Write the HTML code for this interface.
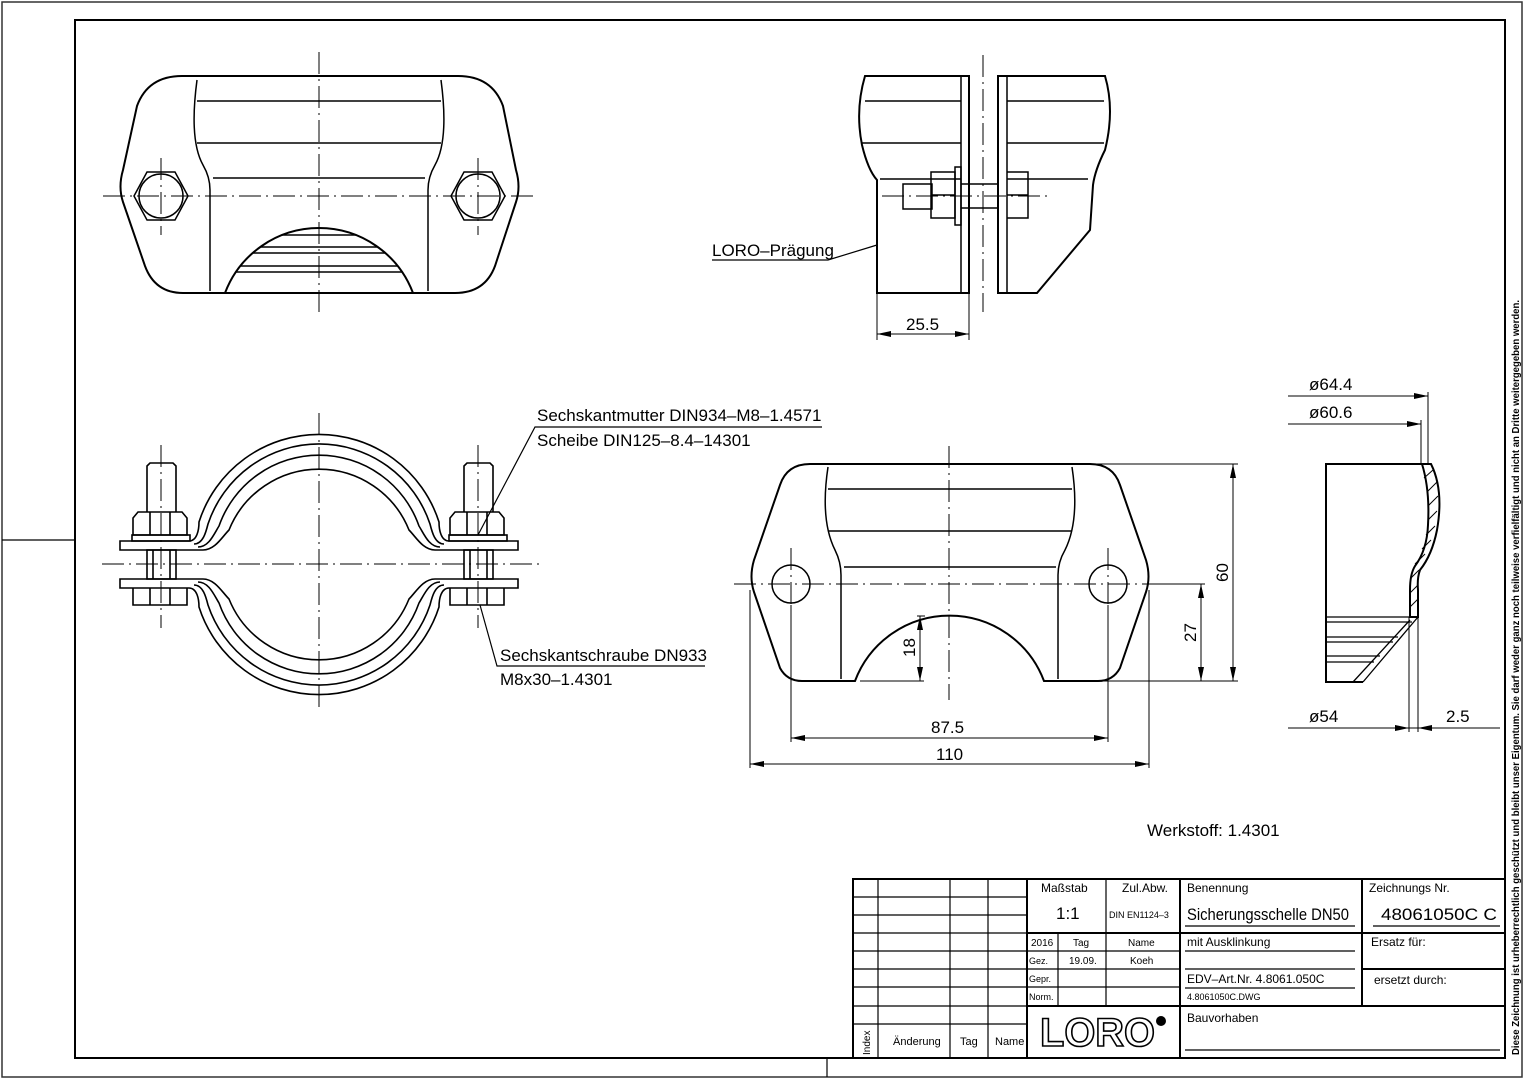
<!DOCTYPE html>
<html><head><meta charset="utf-8"><style>
html,body{margin:0;padding:0;background:#fff;}
svg{display:block;}
text{font-family:"Liberation Sans",sans-serif;fill:#000;}
</style></head><body>
<svg width="1525" height="1080" viewBox="0 0 1525 1080" xmlns="http://www.w3.org/2000/svg">
<g fill="none" stroke="#000">
<rect x="2" y="2" width="1520" height="1075" stroke-width="1.5" stroke="#333"/>
<rect x="75" y="20" width="1430" height="1038" stroke-width="2"/>
<line x1="2" y1="540" x2="75" y2="540" stroke-width="1.2"/>
<line x1="827" y1="1058" x2="827" y2="1077" stroke-width="1.2"/>

<!-- Top-left view -->
<g stroke-width="2">
<path d="M182,76 L458,76 Q492,76 503,106 L516,170 Q521,187 516,202 L495,266 Q485,293 455,293 L183,293 Q155,293 145,266 L123,202 Q118,187 123,170 L137,106 Q148,76 182,76 Z"/>
<path d="M197,80 Q189,140 203,165 Q210,177 210,190 L210,291" stroke-width="1.5"/>
<path d="M441,80 Q449,140 435,165 Q428,177 428,190 L428,291" stroke-width="1.5"/>
<path d="M225,293 A100.5,100.5 0 0 1 413,293"/>
</g>
<g stroke-width="1.5">
<line x1="197" y1="101" x2="441" y2="101"/><line x1="197" y1="143" x2="441" y2="143"/><line x1="213" y1="178" x2="425" y2="178"/>
<line x1="282" y1="235" x2="356" y2="235"/><line x1="260" y1="247" x2="378" y2="247"/><line x1="253" y1="253" x2="385" y2="253"/>
<line x1="240" y1="266" x2="398" y2="266"/><line x1="236" y1="272" x2="402" y2="272"/>
<polygon points="134,196 147,172 175,172 188,196 175,220 147,220"/>
<circle cx="161" cy="196" r="22"/>
<polygon points="451,196 464,172 492,172 505,196 492,220 464,220"/>
<circle cx="478" cy="196" r="22"/>
</g>
<g stroke-width="1" stroke-dasharray="22,5,2,5">
<line x1="103" y1="196" x2="537" y2="196"/>
<line x1="319" y1="52" x2="319" y2="315"/>
<line x1="161" y1="158" x2="161" y2="235"/><line x1="478" y1="158" x2="478" y2="235"/>
</g>

<!-- Top-right side view -->
<g stroke-width="2">
<path d="M969,76 L865,76 Q855,110 862,145 Q868,170 877,180 L877,293 L969,293 Z"/>
<line x1="961" y1="76" x2="961" y2="293" stroke-width="1.5"/>
<path d="M998,76 L1105,76 Q1115,110 1105,150 Q1095,170 1093,185 L1090,230 L1037,293 L998,293 Z"/>
<line x1="1007" y1="76" x2="1007" y2="293" stroke-width="1.5"/>
</g>
<g stroke-width="1.5">
<line x1="865" y1="101" x2="961" y2="101"/><line x1="862" y1="143" x2="961" y2="143"/><line x1="880" y1="179" x2="961" y2="179"/>
<line x1="1007" y1="101" x2="1104" y2="101"/><line x1="1007" y1="143" x2="1104" y2="143"/><line x1="1007" y1="179" x2="1088" y2="179"/>
<rect x="903" y="184" width="29" height="25"/>
<rect x="931" y="172" width="24" height="46"/><line x1="931" y1="195" x2="955" y2="195"/>
<rect x="955" y="167" width="6" height="58"/>
<line x1="961" y1="184" x2="998" y2="184"/><line x1="961" y1="208" x2="998" y2="208"/>
<path d="M1007,172 L1028,172 L1028,218 L1007,218 M1007,195 L1028,195"/>
<line x1="877" y1="293" x2="877" y2="340" stroke-width="1"/><line x1="969" y1="293" x2="969" y2="340" stroke-width="1"/>
<line x1="877" y1="334" x2="969" y2="334" stroke-width="1"/>
<polyline points="712,260 828,260 877,245" stroke-width="1.2"/>
</g>
<path d="M877,334 L891,331 L891,337 Z M969,334 L955,331 L955,337 Z" fill="#000" stroke="none"/>
<g stroke-width="1" stroke-dasharray="22,5,2,5">
<line x1="983" y1="55" x2="983" y2="312"/>
<line x1="882" y1="196" x2="1050" y2="196"/>
</g>

<!-- Clamp view -->
<g stroke-width="1.6">
<path d="M189,541 C197,541 199,530 199,522 A126,126 0 0 1 439,522 C439,530 441,541 449,541"/>
<path d="M194,544 C203,544 206,532 208,524 A117,117 0 0 1 430,524 C432,532 435,544 444,544"/>
<path d="M198,547 C209,547 214,534 219,526 A106,106 0 0 1 419,526 C424,534 429,547 440,547"/>
<path d="M203,550 C215,550 222,537 229,530 A97,97 0 0 1 409,530 C416,537 423,550 435,550"/>
<path d="M189,588 C197,588 199,599 199,607 A126,126 0 0 0 439,607 C439,599 441,588 449,588"/>
<path d="M194,585 C203,585 206,597 208,605 A117,117 0 0 0 430,605 C432,597 435,585 444,585"/>
<path d="M198,582 C209,582 214,595 219,603 A106,106 0 0 0 419,603 C424,595 429,582 440,582"/>
<path d="M203,579 C215,579 222,592 229,599 A97,97 0 0 0 409,599 C416,592 423,579 435,579"/>
<path d="M189,541 L120,541 L120,550 L203,550 M189,588 L120,588 L120,579 L203,579"/>
<path d="M449,541 L518,541 L518,550 L435,550 M449,588 L518,588 L518,579 L435,579"/>
<path d="M147,512 L147,466 L150,463 L173,463 L176,466 L176,512"/>
<path d="M133,535 L133,518 L138,512 L182,512 L187,518 L187,535 Z M150,512 L150,535 M170,512 L170,535"/>
<rect x="132" y="535" width="58" height="6"/>
<rect x="147" y="550" width="29" height="29"/><line x1="153" y1="550" x2="153" y2="579"/><line x1="170" y1="550" x2="170" y2="579"/>
<path d="M133,588 L133,605 L187,605 L187,588 M150,588 L150,605 M170,588 L170,605"/>
<path d="M464,512 L464,466 L467,463 L490,463 L493,466 L493,512"/>
<path d="M450,535 L450,518 L455,512 L499,512 L504,518 L504,535 Z M467,512 L467,535 M487,512 L487,535"/>
<rect x="449" y="535" width="58" height="6"/>
<rect x="464" y="550" width="29" height="29"/><line x1="470" y1="550" x2="470" y2="579"/><line x1="487" y1="550" x2="487" y2="579"/>
<path d="M450,588 L450,605 L504,605 L504,588 M467,588 L467,605 M487,588 L487,605"/>
</g>
<g stroke-width="1.2">
<polyline points="478,535 535,427 822,427"/>
<polyline points="480,605 497,666 705,666"/>
</g>
<g stroke-width="1" stroke-dasharray="22,5,2,5">
<line x1="102" y1="564" x2="540" y2="564"/>
<line x1="319" y1="413" x2="319" y2="712"/>
<line x1="161" y1="445" x2="161" y2="628"/><line x1="478" y1="445" x2="478" y2="628"/>
</g>

<!-- Middle-right view -->
<g stroke-width="2">
<path d="M810,464 L1090,464 Q1113,464 1120,485 L1146,560 Q1151,577 1146,592 L1120,668 Q1113,681 1098,681 L1044,681 A101,101 0 0 0 855,681 L802,681 Q787,681 780,668 L754,592 Q749,577 754,560 L780,485 Q787,464 810,464 Z"/>
</g>
<g stroke-width="1.5">
<path d="M828,467 Q820,520 835,550 Q841,562 841,575 L841,679"/>
<path d="M1072,467 Q1080,520 1065,550 Q1058,562 1058,575 L1058,679"/>
<line x1="828" y1="489" x2="1072" y2="489"/><line x1="828" y1="531" x2="1072" y2="531"/><line x1="844" y1="567" x2="1056" y2="567"/>
<circle cx="791" cy="584" r="19"/><circle cx="1108" cy="584" r="19"/>
</g>
<g stroke-width="1">
<line x1="791" y1="605" x2="791" y2="742"/><line x1="1108" y1="605" x2="1108" y2="742"/>
<line x1="791" y1="738" x2="1108" y2="738"/>
<line x1="750" y1="590" x2="750" y2="768"/><line x1="1149" y1="590" x2="1149" y2="768"/>
<line x1="750" y1="764" x2="1149" y2="764"/>
<line x1="1090" y1="464" x2="1238" y2="464"/><line x1="1098" y1="681" x2="1238" y2="681"/>
<line x1="1233" y1="464" x2="1233" y2="681"/>
<line x1="1150" y1="584" x2="1205" y2="584"/>
<line x1="1201" y1="584" x2="1201" y2="681"/>
<line x1="917" y1="616" x2="925" y2="616"/><line x1="860" y1="681" x2="924" y2="681"/>
<line x1="920" y1="616" x2="920" y2="681"/>
</g>
<g fill="#000" stroke="none">
<path d="M791,738 L805,735 L805,741 Z M1108,738 L1094,735 L1094,741 Z"/>
<path d="M750,764 L764,761 L764,767 Z M1149,764 L1135,761 L1135,767 Z"/>
<path d="M1233,464 L1230,478 L1236,478 Z M1233,681 L1230,667 L1236,667 Z"/>
<path d="M1201,584 L1198,598 L1204,598 Z M1201,681 L1198,667 L1204,667 Z"/>
<path d="M920,616 L917,630 L923,630 Z M920,681 L917,667 L923,667 Z"/>
</g>
<g stroke-width="1" stroke-dasharray="22,5,2,5">
<line x1="734" y1="584" x2="1168" y2="584"/>
<line x1="949" y1="446" x2="949" y2="700"/>
<line x1="791" y1="548" x2="791" y2="620"/><line x1="1108" y1="548" x2="1108" y2="620"/>
</g>

<!-- Section view -->
<g stroke-width="2">
<path d="M1431,464 L1326,464 L1326,682 L1363,682"/>
<path d="M1422,464 L1431,464 Q1444,490 1437,530 Q1432,555 1420,570 Q1417,578 1418,590 L1418,617 L1410,617 L1410,590 Q1410,574 1415,566 Q1427,550 1428,525 Q1430,490 1422,464 Z"/>
</g>
<g stroke-width="1.3">
<line x1="1326" y1="617" x2="1418" y2="617"/><line x1="1326" y1="622" x2="1412" y2="622"/>
<line x1="1326" y1="637" x2="1398" y2="637"/><line x1="1326" y1="642" x2="1393" y2="642"/>
<line x1="1326" y1="656" x2="1380" y2="656"/><line x1="1326" y1="662" x2="1374" y2="662"/>
<line x1="1418" y1="617" x2="1363" y2="682"/><line x1="1410" y1="620" x2="1353" y2="682"/>
<line x1="1424" y1="478" x2="1433" y2="470" stroke-width="1"/>
<line x1="1427" y1="492" x2="1437" y2="482" stroke-width="1"/>
<line x1="1428" y1="506" x2="1438" y2="496" stroke-width="1"/>
<line x1="1428" y1="520" x2="1437" y2="511" stroke-width="1"/>
<line x1="1426" y1="535" x2="1435" y2="526" stroke-width="1"/>
<line x1="1422" y1="549" x2="1431" y2="540" stroke-width="1"/>
<line x1="1415" y1="564" x2="1425" y2="554" stroke-width="1"/>
<line x1="1411" y1="578" x2="1419" y2="570" stroke-width="1"/>
<line x1="1410" y1="593" x2="1418" y2="585" stroke-width="1"/>
<line x1="1410" y1="607" x2="1418" y2="599" stroke-width="1"/>
</g>
<g stroke-width="1">
<line x1="1288" y1="396" x2="1428" y2="396"/><line x1="1428" y1="392" x2="1428" y2="464"/>
<line x1="1288" y1="424" x2="1421" y2="424"/><line x1="1421" y1="420" x2="1421" y2="464"/>
<line x1="1409" y1="617" x2="1409" y2="732"/><line x1="1418" y1="617" x2="1418" y2="732"/>
<line x1="1288" y1="728" x2="1500" y2="728"/>
</g>
<g fill="#000" stroke="none">
<path d="M1428,396 L1414,393 L1414,399 Z M1421,424 L1407,421 L1407,427 Z"/>
<path d="M1409,728 L1395,725 L1395,731 Z M1418,728 L1432,725 L1432,731 Z"/>
</g>

<!-- Title block -->
<g stroke-width="2">
<rect x="853" y="879" width="652" height="179"/>
<line x1="1027" y1="879" x2="1027" y2="1058"/>
<line x1="1180" y1="879" x2="1180" y2="1058"/>
<line x1="1362" y1="879" x2="1362" y2="1006"/>
<line x1="1027" y1="933" x2="1505" y2="933"/>
<line x1="1027" y1="1006" x2="1505" y2="1006"/>
<line x1="1362" y1="969" x2="1505" y2="969"/>
</g>
<g stroke-width="1.2">
<line x1="878" y1="879" x2="878" y2="1058"/><line x1="950" y1="879" x2="950" y2="1058"/><line x1="988" y1="879" x2="988" y2="1058"/>
<line x1="853" y1="897" x2="1027" y2="897"/><line x1="853" y1="915" x2="1027" y2="915"/><line x1="853" y1="933" x2="1027" y2="933"/>
<line x1="853" y1="951" x2="1027" y2="951"/><line x1="853" y1="969" x2="1027" y2="969"/><line x1="853" y1="987" x2="1027" y2="987"/>
<line x1="853" y1="1006" x2="1027" y2="1006"/><line x1="853" y1="1024" x2="1027" y2="1024"/>
<line x1="1106" y1="879" x2="1106" y2="1006"/><line x1="1058" y1="933" x2="1058" y2="1006"/>
<line x1="1027" y1="951" x2="1180" y2="951"/><line x1="1027" y1="969" x2="1180" y2="969"/><line x1="1027" y1="987" x2="1180" y2="987"/>
<line x1="1185" y1="926" x2="1355" y2="926"/><line x1="1185" y1="951" x2="1355" y2="951"/><line x1="1185" y1="969" x2="1355" y2="969"/>
<line x1="1185" y1="988" x2="1355" y2="988"/><line x1="1185" y1="1050" x2="1500" y2="1050"/>
<line x1="1373" y1="926" x2="1500" y2="926"/>
</g>
</g>

<g font-size="17">
<text x="712" y="256">LORO–Prägung</text>
<text x="906" y="330">25.5</text>
<text x="537" y="421">Sechskantmutter DIN934–M8–1.4571</text>
<text x="537" y="446">Scheibe DIN125–8.4–14301</text>
<text x="500" y="661">Sechskantschraube DN933</text>
<text x="500" y="685">M8x30–1.4301</text>
<text x="931" y="733">87.5</text>
<text x="936" y="760">110</text>
<text transform="translate(1228,582) rotate(-90)">60</text>
<text transform="translate(1196,642) rotate(-90)">27</text>
<text transform="translate(915,657) rotate(-90)">18</text>
<text x="1309" y="390">ø64.4</text>
<text x="1309" y="418">ø60.6</text>
<text x="1309" y="722">ø54</text>
<text x="1446" y="722">2.5</text>
<text x="1147" y="836">Werkstoff:  1.4301</text>
</g>
<g font-size="12">
<text x="1041" y="892">Maßstab</text>
<text x="1122" y="892">Zul.Abw.</text>
<text x="1187" y="892">Benennung</text>
<text x="1369" y="892">Zeichnungs Nr.</text>
<text x="1031" y="946" font-size="10">2016</text>
<text x="1073" y="946" font-size="10">Tag</text>
<text x="1128" y="946" font-size="10">Name</text>
<text x="1029" y="964" font-size="9">Gez.</text>
<text x="1069" y="964" font-size="10">19.09.</text>
<text x="1130" y="964" font-size="10">Koeh</text>
<text x="1029" y="982" font-size="9">Gepr.</text>
<text x="1029" y="1000" font-size="9">Norm.</text>
<text x="1187" y="946">mit  Ausklinkung</text>
<text x="1187" y="983">EDV–Art.Nr.  4.8061.050C</text>
<text x="1187" y="1000" font-size="9">4.8061050C.DWG</text>
<text x="1187" y="1022">Bauvorhaben</text>
<text x="1371" y="946">Ersatz für:</text>
<text x="1374" y="984">ersetzt durch:</text>
<text x="893" y="1045" font-size="11">Änderung</text>
<text x="960" y="1045" font-size="11">Tag</text>
<text x="995" y="1045" font-size="11">Name</text>
<text transform="translate(870,1055) rotate(-90)" font-size="10">Index</text>
</g>
<text x="1056" y="919" font-size="17">1:1</text>
<text x="1109" y="918" font-size="9">DIN EN1124–3</text>
<text x="1187" y="920" font-size="17" textLength="162" lengthAdjust="spacingAndGlyphs">Sicherungsschelle DN50</text>
<text x="1381" y="920" font-size="17" textLength="116" lengthAdjust="spacingAndGlyphs">48061050C  C</text>
<text x="1040" y="1046" font-size="40" font-weight="bold" stroke="#000" stroke-width="1.6" textLength="115" lengthAdjust="spacingAndGlyphs" style="fill:#fff">LORO</text>
<circle cx="1161" cy="1021" r="5" fill="#000"/>
<text transform="translate(1519,1055) rotate(-90)" font-size="10.5" font-weight="bold" textLength="755" lengthAdjust="spacingAndGlyphs">Diese Zeichnung ist urheberrechtlich geschützt und bleibt unser Eigentum. Sie darf weder ganz noch teilweise verfielfältigt und nicht an Dritte weitergegeben werden.</text>
</svg>
</body></html>
